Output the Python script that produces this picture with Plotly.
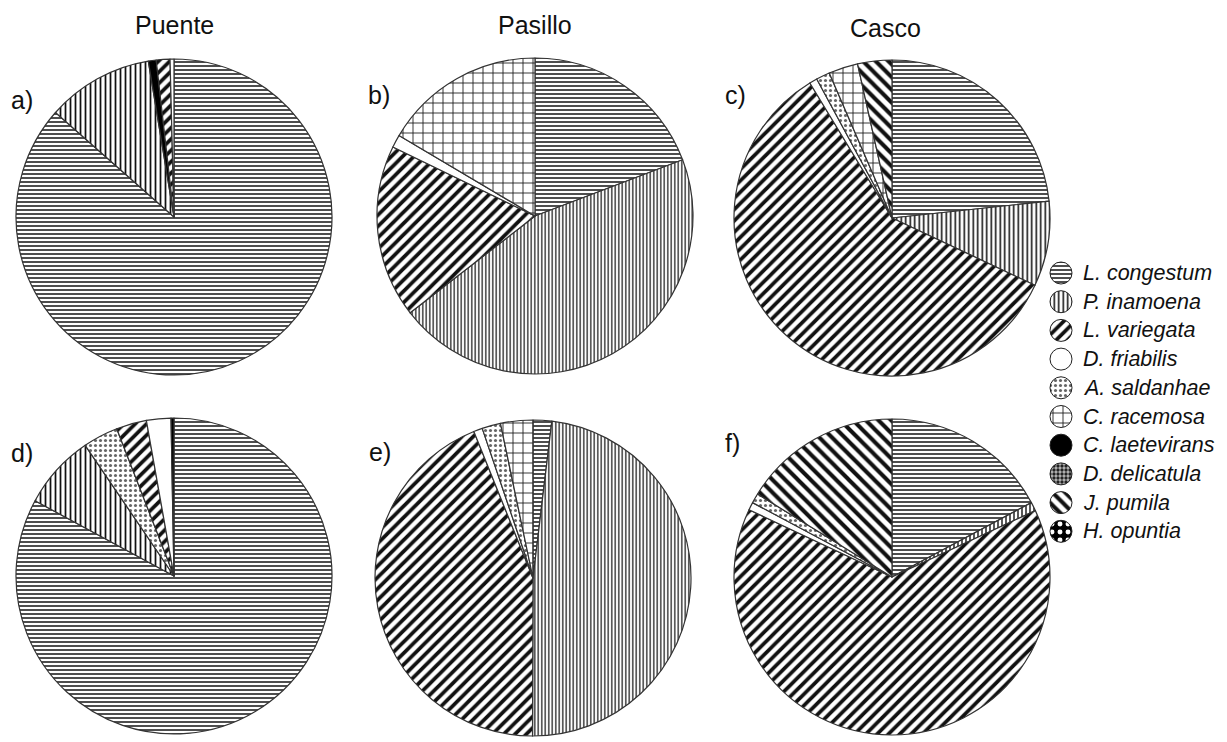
import plotly.graph_objects as go

OFF = 8                      # page body margin of the generated html
W, H = 1227 - OFF, 742 - OFF  # figure size so the page fits the window

species = ["L. congestum", "P. inamoena", "L. variegata", "D. friabilis", "A. saldanhae",
           "C. racemosa", "C. laetevirans", "D. delicatula", "J. pumila", "H. opuntia"]

sites = ["Puente", "Pasillo", "Casco"]
panel_letters = ["a)", "b)", "c)", "d)", "e)", "f)"]

# Percentages per panel, listed clockwise from 12 o'clock as drawn
a_species = ["L. congestum", "P. inamoena", "C. laetevirans", "L. variegata", "D. friabilis"]
a_values = [86.5, 10.9, 0.8, 1.4, 0.4]
b_species = ["L. congestum", "P. inamoena", "L. variegata", "D. friabilis", "C. racemosa"]
b_values = [19.2, 45.3, 17.7, 1.3, 16.5]
c_species = ["L. congestum", "P. inamoena", "L. variegata", "D. friabilis", "A. saldanhae",
             "C. racemosa", "J. pumila"]
c_values = [23.3, 8.7, 59.3, 0.8, 1.4, 3.0, 3.5]
d_species = ["L. congestum", "P. inamoena", "A. saldanhae", "L. variegata", "D. friabilis",
             "C. laetevirans"]
d_values = [82.9, 7.6, 3.6, 3.1, 2.5, 0.3]
e_species = ["L. congestum", "P. inamoena", "L. variegata", "D. friabilis", "A. saldanhae",
             "C. racemosa"]
e_values = [1.9, 48.1, 43.8, 0.9, 1.9, 3.3]
f_species = ["L. congestum", "P. inamoena", "L. variegata", "D. friabilis", "A. saldanhae",
             "J. pumila"]
f_values = [17.2, 0.9, 63.9, 0.8, 1.0, 16.2]

panels = [(a_species, a_values), (b_species, b_values), (c_species, c_values),
          (d_species, d_values), (e_species, e_values), (f_species, f_values)]

# Fill styles (pattern shape, fg, bg, size, solidity)
STYLE = {
    "L. congestum":   ("-", "#3a3a3a", "#ffffff", 4, 0.45),
    "P. inamoena":    ("|", "#111111", "#ffffff", 4.5, 0.35),
    "L. variegata":   ("/", "#111111", "#ffffff", 8, 0.47),
    "D. friabilis":   ("", "#111111", "#ffffff", 6, 0.3),
    "A. saldanhae":   (".", "#666666", "#ffffff", 5, 0.3),
    "C. racemosa":    ("+", "#111111", "#ffffff", 10, 0.16),
    "C. laetevirans": ("", "#000000", "#000000", 6, 0.3),
    "D. delicatula":  (".", "#222222", "#bbbbbb", 4, 0.55),
    "J. pumila":      ("\\", "#111111", "#ffffff", 9, 0.45),
    "H. opuntia":     (".", "#ffffff", "#000000", 8, 0.3),
}
# vertical-line spacing is finer in the Pasillo panels
panel_inamoena_size = [5, 3.5, 4.5, 5, 3.5, 4]

# pie centres (px in the reference window) and radius
centers = [(174, 217), (535, 216), (892, 218), (174, 576), (533, 578), (892, 577)]
R = 158


def dom(cx, cy, r):
    cx, cy = cx - OFF, cy - OFF
    return dict(x=[(cx - r) / W, (cx + r) / W], y=[1 - (cy + r) / H, 1 - (cy - r) / H])


def px(x, y):
    return (x - OFF) / W, 1 - (y - OFF) / H


def pattern_for(labels, inam_size=None):
    sizes = []
    for s in labels:
        if s == "P. inamoena" and inam_size is not None:
            sizes.append(inam_size)
        else:
            sizes.append(STYLE[s][3])
    return dict(
        shape=[STYLE[s][0] for s in labels],
        fgcolor=[STYLE[s][1] for s in labels],
        bgcolor=[STYLE[s][2] for s in labels],
        size=sizes,
        solidity=[STYLE[s][4] for s in labels],
    )


fig = go.Figure()

for (labels, vals), (cx, cy), isz in zip(panels, centers, panel_inamoena_size):
    fig.add_trace(go.Pie(
        labels=labels, values=vals, sort=False, direction="clockwise", rotation=0,
        textinfo="none", hoverinfo="label+percent", showlegend=False,
        marker=dict(colors=[STYLE[s][2] for s in labels],
                    line=dict(color="#333333", width=1.2),
                    pattern=pattern_for(labels, isz)),
        domain=dom(cx, cy, R),
    ))

# Legend: circular swatches + italic labels
leg_x, leg_y0, leg_dy, sw_r = 1061, 273, 28.7, 11
for i, sp in enumerate(species):
    y = leg_y0 + i * leg_dy
    fig.add_trace(go.Pie(
        labels=[sp], values=[1], sort=False, textinfo="none", hoverinfo="label",
        showlegend=False,
        marker=dict(colors=[STYLE[sp][2]], line=dict(color="#222222", width=1),
                    pattern=pattern_for([sp])),
        domain=dom(leg_x, y, sw_r),
    ))
    xx, yy = px(1081, y)
    fig.add_annotation(x=xx, y=yy, xref="paper", yref="paper",
                       text="<i>" + sp + "</i>", showarrow=False, xanchor="left",
                       yanchor="middle", font=dict(size=21.5, color="#111111"))

# Column titles
title_pos = [(174, 25), (535, 25), (885, 28)]
for t, (x, y) in zip(sites, title_pos):
    xx, yy = px(x, y)
    fig.add_annotation(x=xx, y=yy, xref="paper", yref="paper", text=t,
                       showarrow=False, xanchor="center", yanchor="middle",
                       font=dict(size=25, color="#111111"))

letter_pos = [(9, 100), (366, 95), (723, 95), (9, 453), (367, 452), (723, 443)]
for t, (x, y) in zip(panel_letters, letter_pos):
    xx, yy = px(x, y)
    fig.add_annotation(x=xx, y=yy, xref="paper", yref="paper", text=t,
                       showarrow=False, xanchor="left", yanchor="middle",
                       font=dict(size=25, color="#111111"))

fig.update_layout(
    width=W, height=H, margin=dict(l=0, r=0, t=0, b=0),
    paper_bgcolor="white", plot_bgcolor="white",
    font=dict(family="Liberation Sans, Arial, sans-serif"),
    showlegend=False,
)

fig.write_html("out.html")
